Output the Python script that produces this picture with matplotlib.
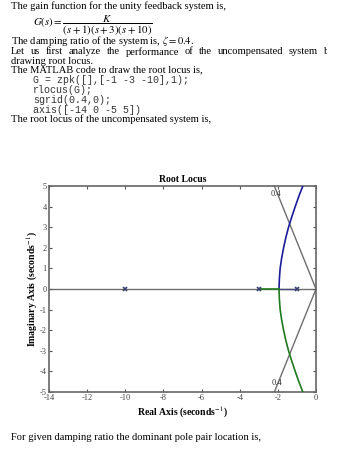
import numpy as np
import matplotlib.pyplot as plt
from matplotlib.transforms import Bbox, TransformedBbox

# --- page text ---
body_lines = [
    (6, "The gain function for the unity feedback system is,"),
    (41.5, "The damping ratio of the system is, $\\zeta=0.4$."),
    (61, "drawing root locus."),
    (70, "The MATLAB code to draw the root locus is,"),
    (119, "The root locus of the uncompensated system is,"),
    (438, "For given damping ratio the dominant pole pair location is,"),
]
justified_line = "Let us first analyze the performance of the uncompensated system by"
code_lines = [
    "G = zpk([],[-1 -3 -10],1);",
    "rlocus(G);",
    "sgrid(0.4,0);",
    "axis([-14 0 -5 5])",
]
code_y = [80, 90, 100, 110]

# --- root locus data ---
poles = [-1, -3, -10]
zeta = 0.4
branch_re = [-1.94, -1.92, -1.88, -1.80, -1.70, -1.58, -1.44, -1.27, -1.09, -0.90, -0.69, -0.57]
branch_im = [0.0, 0.5, 1.0, 1.5, 2.0, 2.5, 3.0, 3.5, 4.0, 4.5, 5.0, 5.3]
breakaway = -1.94

W, H = 338, 454
plt.rcParams['mathtext.fontset'] = 'stix'
plt.rcParams['axes.unicode_minus'] = False
fig = plt.figure(figsize=(W / 100, H / 100), dpi=100)
serif = 'Liberation Serif'
fs = 7.6

def fy(ypx):
    return 1 - ypx / H

for y, s in body_lines:
    fig.text(11 / W, fy(y), s, family=serif, fontsize=fs, va='center', ha='left')

# justified line, word by word; the page is cut off at about x=327 px
words = justified_line.split()
renderer = fig.canvas.get_renderer()
x0, x_last = 11, 324
clip = TransformedBbox(Bbox([[0, 0], [327 / W, 1]]), fig.transFigure)
txts, widths = [], []
for w in words:
    t = fig.text(0, fy(52), w, family=serif, fontsize=fs, va='center', ha='left')
    t.set_clip_box(clip)
    t.set_clip_on(True)
    txts.append(t)
    widths.append(t.get_window_extent(renderer).width)
gap = (x_last - x0 - sum(widths[:-1])) / (len(words) - 1)
x = x0
for t, wd in zip(txts, widths):
    t.set_x(x / W)
    x += wd + gap

for y, s in zip(code_y, code_lines):
    fig.text(33 / W, fy(y), s, family='Liberation Mono', fontsize=7.2, va='center',
             ha='left', color='#333333')

fig.text(33 / W, fy(25.5), r'$G(s)=\dfrac{K}{(s+1)(s+3)(s+10)}$', fontsize=7.8,
         va='center', ha='left')

# --- root locus axes ---
ax = fig.add_axes([49 / W, 1 - 392 / H, 267 / W, 206 / H])
grid_c = '#6e6e6e'
ax.axhline(0, color=grid_c, lw=1.0, zorder=1)
ang = np.arccos(zeta)
im_end = 5.6
ax.plot([0, -im_end / np.tan(ang)], [0, im_end], color=grid_c, lw=1.0, zorder=1)
ax.plot([0, -im_end / np.tan(ang)], [0, -im_end], color=grid_c, lw=1.0, zorder=1)
ax.text(-2.1, 4.62, '0.4', fontsize=6, family=serif, color='#333333', ha='center', va='center')
ax.text(-2.05, -4.55, '0.4', fontsize=6, family=serif, color='#333333', ha='center', va='center')

blue, green = '#1c1c9a', '#1f7a1f'
ax.plot(branch_re, branch_im, color=blue, lw=1.2, zorder=3)
ax.plot(branch_re, [-v for v in branch_im], color=green, lw=1.2, zorder=3)
ax.plot([poles[1], breakaway], [0, 0], color=green, lw=1.2, zorder=3)
ax.plot([poles[0], breakaway], [0, 0], color='#4a4a7a', lw=1.0, zorder=2)
ax.plot(poles, [0, 0, 0], 'x', color='#3a4470', ms=2.5, mew=1.2, zorder=4)

ax.set_xlim(-14, 0)
ax.set_ylim(-5, 5)
ax.set_xticks(np.arange(-14, 1, 2))
ax.set_yticks(np.arange(-5, 6, 1))
ax.tick_params(direction='in', top=True, right=True, length=2.5, width=0.8,
               labelsize=6, colors='#555555', labelcolor='#444444', pad=1.5)
for lab in ax.get_xticklabels() + ax.get_yticklabels():
    lab.set_family(serif)
for sp in ax.spines.values():
    sp.set_color('#666666')
    sp.set_linewidth(1.2)

ax.set_title('Root Locus', fontsize=7, fontweight='bold', family=serif, pad=3)
ax.set_xlabel('Real Axis (seconds$^{-1}$)', fontsize=7, fontweight='bold', family=serif, labelpad=2)
ax.set_ylabel('Imaginary Axis (seconds$^{-1}$)', fontsize=7, fontweight='bold', family=serif)
ax.yaxis.set_label_coords(-0.035, 0.5)

fig.savefig('out.png', dpi=100)
